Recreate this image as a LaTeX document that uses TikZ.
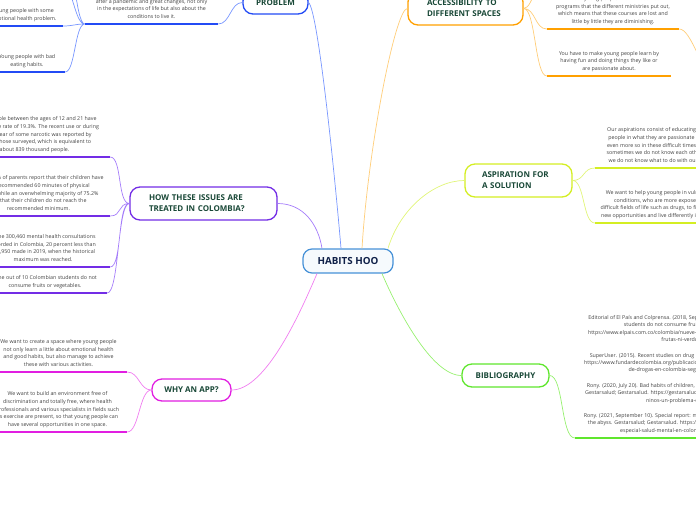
\documentclass[tikz,border=0pt]{standalone}
\usepackage{fontspec}
\setmainfont{Open Sans}
\usetikzlibrary{positioning}

\definecolor{probline}{RGB}{120,150,255}
\definecolor{probdark}{RGB}{35,75,245}
\definecolor{howline}{RGB}{165,125,250}
\definecolor{howdark}{RGB}{115,45,230}
\definecolor{whyline}{RGB}{240,125,240}
\definecolor{whydark}{RGB}{225,30,225}
\definecolor{accline}{RGB}{255,205,120}
\definecolor{accdark}{RGB}{255,160,0}
\definecolor{aspline}{RGB}{225,245,120}
\definecolor{aspdark}{RGB}{212,238,35}
\definecolor{bibline}{RGB}{150,240,110}
\definecolor{bibdark}{RGB}{95,230,45}
\definecolor{hubline}{RGB}{70,145,215}
\definecolor{hubfill}{RGB}{246,250,253}
\definecolor{titletext}{RGB}{25,72,55}
\definecolor{hubtext}{RGB}{15,32,72}
\definecolor{leaftext}{RGB}{65,65,65}

\begin{document}
\begin{tikzpicture}[
  x=1pt, y=-1pt,
  central/.style={draw=hubline, fill=hubfill, line width=1.2pt, rounded corners=9pt, minimum width=90pt, minimum height=24pt, inner sep=2pt, text=hubtext, font=\fontsize{9.8}{11}\selectfont\bfseries},
  topic/.style={draw=#1, fill=white, line width=1.3pt, rounded corners=10pt, inner sep=2pt, text=titletext, font=\fontsize{8}{11}\selectfont\bfseries},
  leaf/.style={anchor=south, inner xsep=0pt, inner ysep=4pt, text depth=1.5pt, text=leaftext, align=center, font=\fontsize{5.3}{7.6}\selectfont},
  link/.style={draw=#1, line width=0.7pt},
  uline/.style={draw=#1, line width=1.4pt}
]
\useasboundingbox (0,0) rectangle (696,520);
\clip (0,0) rectangle (696,520);

% main topics
\node[central] (hoo) at (348,261) {HABITS HOO};
\node[topic=probdark, minimum width=65pt, minimum height=23pt] (prob) at (275.5,2.5) {PROBLEM};
\node[topic=howdark, minimum height=33pt, text width=109pt, inner xsep=19pt, align=left] (how) at (203.5,203.5) {HOW THESE ISSUES ARE\\TREATED IN COLOMBIA?};
\node[topic=whydark, minimum width=79pt, minimum height=22pt] (why) at (191.5,390) {WHY AN APP?};
\node[topic=accdark, minimum height=33pt, text width=77pt, inner xsep=19pt, align=left] (acc) at (465.5,8.5) {ACCESSIBILITY TO\\DIFFERENT SPACES};
\node[topic=aspdark, minimum height=33pt, text width=73pt, inner xsep=17pt, align=left] (asp) at (518.5,180.5) {ASPIRATION FOR\\A SOLUTION};
\node[topic=bibdark, minimum width=87pt, minimum height=23pt] (bib) at (505.5,375.5) {BIBLIOGRAPHY};

% leaves of the problem
\node[leaf, minimum width=133pt] (p1) at (151.5,24) {Young people are facing a new reality\\after a pandemic and great changes, not only\\in the expectations of life but also about the\\conditions to live it.};
\node[leaf, minimum width=79pt] (p2) at (23.5,26) {Young people with some\\emotional health problem.};
\node[leaf, minimum width=76pt] (p3) at (27,72) {Young people with bad\\eating habits.};
\coordinate (up1) at (63,-14);
\coordinate (up2) at (63,-60);

% leaves of colombia
\node[leaf, minimum width=151pt] (h1) at (34.5,157) {Young people between the ages of 12 and 21 have\\a prevalence rate of 19.3\%. The recent use or during\\the last year of some narcotic was reported by\\3.1\% of those surveyed, which is equivalent to\\about 839 thousand people.};
\node[leaf, minimum width=143pt] (h2) at (38.5,216) {Only 18.3\% of parents report that their children have\\the recommended 60 minutes of physical\\activity while an overwhelming majority of 75.2\%\\say that their children do not reach the\\recommended minimum.};
\node[leaf, minimum width=134pt] (h3) at (43,267) {Some 300,460 mental health consultations\\recorded in Colombia, 20 percent less than\\375,950 made in 2019, when the historical\\maximum was reached.};
\node[leaf, minimum width=124pt] (h4) at (45,293) {Nine out of 10 Colombian students do not\\consume fruits or vegetables.};

% leaves of the app
\node[leaf, minimum width=137pt] (w1) at (58.5,372) {We want to create a space where young people\\not only learn a little about emotional health\\and good habits, but also manage to achieve\\these with various activities.};
\node[leaf, minimum width=139pt] (w2) at (57.5,432) {We want to build an environment free of\\discrimination and totally free, where health\\professionals and various specialists in fields such\\as exercise are present, so that young people can\\have several opportunities in one space.};

% leaves of accessibility
\node[leaf, minimum width=132pt] (a1) at (613,29) {Not all young people know about free\\programs that the different ministries put out,\\which means that these courses are lost and\\little by little they are diminishing.};
\node[leaf, minimum width=124pt] (a2) at (609,76) {You have to make young people learn by\\having fun and doing things they like or\\are passionate about.};
\coordinate (accup) at (548,-30);
\coordinate (a1out) at (712,70);

% leaves of aspiration
\node[leaf, minimum width=130pt] (s1) at (660,168) {Our aspirations consist of educating young\\people in what they are passionate about,\\even more so in these difficult times where\\sometimes we do not know each other and\\we do not know what to do with our lives.};
\node[leaf, minimum width=130pt] (s2) at (660,223) {We want to help young people in vulnerable\\conditions, who are more exposed to\\difficult fields of life such as drugs, to find better\\new opportunities and live differently in society.};

% bibliography
\node[leaf, minimum width=230pt, font=\fontsize{5.3}{7.4}\selectfont] (b1) at (690,438) {Editorial of El País and Colprensa. (2018, September 29). Nine out of 10 Colombian\\students do not consume fruits or vegetables. El País.\\https://www.elpais.com.co/colombia/nueve-de-cada-10-estudiantes-no-consumen-\\frutas-ni-verduras.html\\[8pt]SuperUser. (2015). Recent studies on drug use in Colombia. Fundar de Colombia.\\https://www.fundardecolombia.org/publicaciones/estudios-recientes-sobre-consumo-\\de-drogas-en-colombia-segun-estudios-recientes/\\[8pt]Rony. (2020, July 20). Bad habits of children, a problem on the increase in Colombia.\\Gestarsalud; Gestarsalud. https://gestarsalud.com/2020/07/20/malos-habitos-de-los-\\ninos-un-problema-en-in-aumento/\\[8pt]Rony. (2021, September 10). Special report: mental health in Colombia, on the edge of\\the abyss. Gestarsalud; Gestarsalud. https://gestarsalud.com/2021/09/10/informe-\\especial-salud-mental-en-colombia-al-borde-del-abismo/};

% branches from the centre
\draw[link=probline] (prob.east) .. controls +(10,10) and +(-5,-60) .. ([xshift=-7pt]hoo.north);
\draw[link=howline] (how.east) .. controls +(25,0) and +(-4,-25) .. ([xshift=-26pt]hoo.north);
\draw[link=accline] (acc.west) .. controls +(-12,0) and +(6,-100) .. ([xshift=14pt]hoo.north);
\draw[link=aspline] ([xshift=40pt]hoo.north) .. controls +(12,-40) and +(-30,0) .. (asp.west);
\draw[link=whyline] ([xshift=-31pt]hoo.south) .. controls +(-15,35) and +(35,0) .. (why.east);
\draw[link=bibline] ([xshift=34pt]hoo.south) .. controls +(15,35) and +(-30,0) .. (bib.west);

% branches to the leaves
\draw[link=probline] (prob.west) .. controls +(-12,0) and +(12,0) .. (p1.south east);
\draw[link=probline] (p1.south west) .. controls +(-10,0) and +(10,0) .. (p2.south east)
  (p1.south west) .. controls +(-10,0) and +(10,0) .. (p3.south east)
  (p1.south west) .. controls +(-10,0) and +(10,0) .. (up1)
  (p1.south west) .. controls +(-10,0) and +(10,0) .. (up2);
\draw[link=howline] (how.west) .. controls +(-12,0) and +(12,0) .. (h1.south east)
  (how.west) .. controls +(-12,0) and +(12,0) .. (h2.south east)
  (how.west) .. controls +(-12,0) and +(12,0) .. (h3.south east)
  (how.west) .. controls +(-12,0) and +(12,0) .. (h4.south east);
\draw[link=whyline] (why.west) .. controls +(-12,0) and +(12,0) .. (w1.south east)
  (why.west) .. controls +(-12,0) and +(12,0) .. (w2.south east);
\draw[link=accline] (acc.east) .. controls +(12,0) and +(-12,0) .. (a1.south west)
  (acc.east) .. controls +(12,0) and +(-12,0) .. (a2.south west)
  (acc.east) .. controls +(10,0) and +(-10,0) .. (accup)
  (a1.south east) .. controls +(12,0) and +(-12,0) .. (a1out);
\draw[link=aspline] (asp.east) .. controls +(12,0) and +(-12,0) .. (s1.south west)
  (asp.east) .. controls +(12,0) and +(-12,0) .. (s2.south west);
\draw[link=bibline] (bib.east) .. controls +(14,0) and +(-14,0) .. (b1.south west);

% underlines
\draw[uline=probdark] (p1.south west) -- (p1.south east) (p2.south west) -- (p2.south east) (p3.south west) -- (p3.south east);
\draw[uline=howdark] (h1.south west) -- (h1.south east) (h2.south west) -- (h2.south east) (h3.south west) -- (h3.south east) (h4.south west) -- (h4.south east);
\draw[uline=whydark] (w1.south west) -- (w1.south east) (w2.south west) -- (w2.south east);
\draw[uline=accdark] (a1.south west) -- (a1.south east) (a2.south west) -- (a2.south east);
\draw[uline=aspdark] (s1.south west) -- (s1.south east) (s2.south west) -- (s2.south east);
\draw[uline=bibdark] (b1.south west) -- (b1.south east);

\end{tikzpicture}
\end{document}
